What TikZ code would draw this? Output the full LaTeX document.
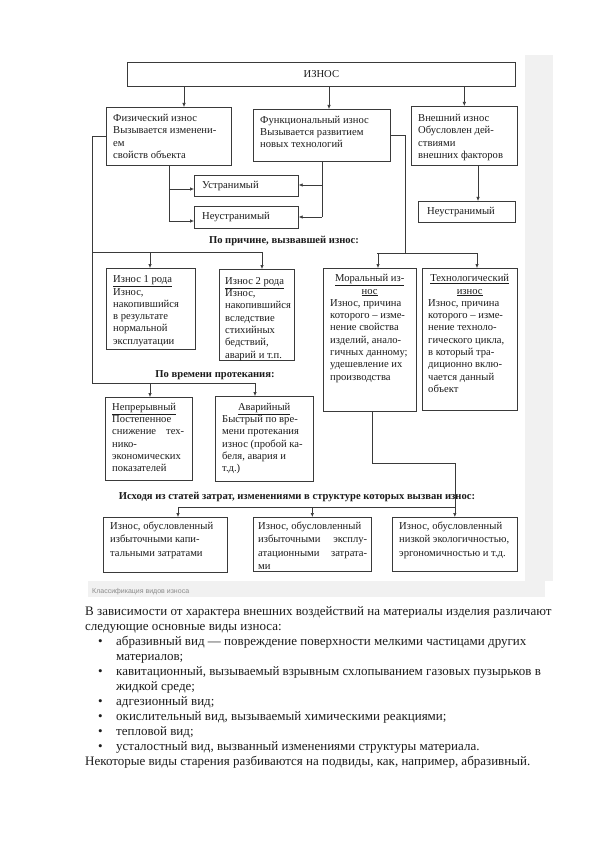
\documentclass[tikz,border=0pt]{standalone}
\usepackage{fontspec}
\setmainfont{Liberation Serif}
\newfontfamily\capfont{Liberation Sans}
\usetikzlibrary{arrows.meta,calc}
\definecolor{linec}{HTML}{3A3A3A}
\definecolor{textc}{HTML}{1C1C1C}
\definecolor{framec}{HTML}{F1F1F1}
\definecolor{capc}{HTML}{8A8A8A}
\newcommand\dfont{\fontsize{10.6}{12.3}\selectfont}
\newcommand\cfont{\fontsize{10.6}{13.2}\selectfont}
\newcommand\bfont{\fontsize{13}{15}\selectfont}
\newcommand\firststrut{\rule{0pt}{10pt}}
\begin{document}
\begin{tikzpicture}[x=1pt,y=-1pt,
  box/.style={draw=linec, line width=0.7pt, inner sep=0pt, anchor=north west},
  txt/.style={inner sep=0pt, anchor=north west, align=left, font=\dfont, text=textc},
  one/.style={inner sep=0pt, anchor=west, font=\dfont, text=textc},
  head/.style={inner sep=0pt, font=\dfont\bfseries, text=textc},
  con/.style={draw=linec, line width=0.6pt},
  arr/.style={con, -{Latex[length=4pt,width=3.4pt]}},
  body/.style={inner sep=0pt, anchor=base west, font=\bfont, text=textc},
]
\useasboundingbox (0,0) rectangle (596,842);
\fill[white] (0,0) rectangle (596,842);
% light grey frame of the figure
\fill[framec] (525,55) rectangle (553,581);
\fill[framec] (88,581) rectangle (545,597);

% ---------- boxes ----------
\node[box, minimum width=388, minimum height=24, font=\dfont, text=textc] (izn) at (127,62) {ИЗНОС};
\node[box, minimum width=125, minimum height=58] (phys) at (106,107) {};
\node[box, minimum width=137, minimum height=52] (func) at (253,109) {};
\node[box, minimum width=106, minimum height=59] (ext) at (411,106) {};
\node[box, minimum width=104, minimum height=21] (ustr) at (194,175) {};
\node[box, minimum width=104, minimum height=22] (neustr) at (194,206) {};
\node[box, minimum width=97, minimum height=21] (neustr2) at (418,201) {};
\node[box, minimum width=89, minimum height=81] (kind1) at (106,268) {};
\node[box, minimum width=75, minimum height=91] (kind2) at (219,269) {};
\node[box, minimum width=93, minimum height=143] (moral) at (323,268) {};
\node[box, minimum width=95, minimum height=142] (tech) at (422,268) {};
\node[box, minimum width=87, minimum height=83] (cont) at (105,397) {};
\node[box, minimum width=98, minimum height=85] (emerg) at (215,396) {};
\node[box, minimum width=124, minimum height=55] (cost1) at (103,517) {};
\node[box, minimum width=118, minimum height=54] (cost2) at (253,517) {};
\node[box, minimum width=125, minimum height=54] (cost3) at (392,517) {};

% ---------- texts ----------
\node[txt] (phys-t) at ($(phys.north west)+(7,4.5)$) {\firststrut Физический износ\\Вызывается изменени-\\ем\\свойств объекта};
\node[txt] (func-t) at ($(func.north west)+(7,4)$) {\firststrut Функциональный износ\\Вызывается развитием\\новых технологий};
\node[txt] (ext-t) at ($(ext.north west)+(7,5.5)$) {\firststrut Внешний износ\\Обусловлен дей-\\ствиями\\внешних факторов};
\node[one] (ustr-t) at ($(ustr.west)+(8,0)$) {Устранимый};
\node[one] (neustr-t) at ($(neustr.west)+(8,0)$) {Неустранимый};
\node[one] (neustr2-t) at ($(neustr2.west)+(9,0)$) {Неустранимый};
\node[txt] (kind1-t) at ($(kind1.north west)+(7,4.5)$) {\firststrut\underline{Износ 1 рода}\\Износ,\\накопившийся\\в результате\\нормальной\\эксплуатации};
\node[txt] (kind2-t) at ($(kind2.north west)+(6,5)$) {\firststrut\underline{Износ 2 рода}\\Износ,\\накопившийся\\вследствие\\стихийных\\бедствий,\\аварий и т.п.};
\node[txt] (moral-t) at ($(moral.north west)+(7,3.5)$) {\firststrut\makebox[79pt][c]{\underline{Моральный из-}}\\\makebox[79pt][c]{\underline{нос}}\\Износ, причина\\которого – изме-\\нение свойства\\изделий, анало-\\гичных данному;\\удешевление их\\производства};
\node[txt] (tech-t) at ($(tech.north west)+(6,3.5)$) {\firststrut\makebox[83pt][c]{\underline{Технологический}}\\\makebox[83pt][c]{\underline{износ}}\\Износ, причина\\которого – изме-\\нение техноло-\\гического цикла,\\в который тра-\\диционно вклю-\\чается данный\\объект};
\node[txt] (cont-t) at ($(cont.north west)+(7,3)$) {\firststrut\underline{Непрерывный}\\Постепенное\\\makebox[72pt][s]{снижение тех-}\\нико-\\экономических\\показателей};
\node[txt] (emerg-t) at ($(emerg.north west)+(7,4)$) {\firststrut\makebox[84pt][c]{\underline{Аварийный}}\\Быстрый по вре-\\мени протекания\\износ (пробой ка-\\беля, авария и\\т.д.)};
\node[txt, font=\cfont] (cost1-t) at ($(cost1.north west)+(7,2.5)$) {\firststrut Износ, обусловленный\\избыточными капи-\\тальными затратами};
\node[txt, font=\cfont] (cost2-t) at ($(cost2.north west)+(5,2.5)$) {\firststrut Износ, обусловленный\\\makebox[109pt][s]{избыточными эксплу-}\\\makebox[109pt][s]{атационными затрата-}\\ми};
\node[txt, font=\cfont] (cost3-t) at ($(cost3.north west)+(7,2.5)$) {\firststrut Износ, обусловленный\\низкой экологичностью,\\эргономичностью и т.д.};

% ---------- headings ----------
\node[head] (hcause) at (284,241) {По причине, вызвавшей износ:};
\node[head] (htime) at (215,375) {По времени протекания:};
\node[head] (hcost) at (297,497) {Исходя из статей затрат, изменениями в структуре которых вызван износ:};

% ---------- helper coordinates ----------
\coordinate (xa) at (184,0);
\coordinate (xb) at (329,0);
\coordinate (xl) at (92,0);
\coordinate (x150) at (150,0);
\coordinate (x255) at (255,0);
\coordinate (x262) at (262,0);
\coordinate (x405) at (405,0);
\coordinate (x377) at (377,0);
\coordinate (x378) at (378,0);
\coordinate (x477) at (477,0);
\coordinate (x478) at (478,0);
\coordinate (x372) at (372,0);
\coordinate (x178) at (178,0);
\coordinate (y185) at (0,185);
\coordinate (y189) at (0,189);
\coordinate (y217) at (0,217);
\coordinate (y221) at (0,221);
\coordinate (ycause) at (0,252);
\coordinate (yright) at (0,253);
\coordinate (ytime) at (0,383);
\coordinate (y463) at (0,463);
\coordinate (ycost) at (0,507);

% ---------- connectors ----------
\draw[arr] (izn.south -| xa) -- (phys.north -| xa);
\draw[arr] (izn.south -| xb) -- (func.north -| xb);
\draw[arr] (izn.south -| ext.north) -- (ext.north);

% physical wear: left trunk
\draw[con] (phys.west) -| (xl |- ytime) -- (x255 |- ytime);
\draw[con] (xl |- ycause) -- (x262 |- ycause);
\draw[arr] (x150 |- ycause) -- (kind1.north -| x150);
\draw[arr] (x262 |- ycause) -- (kind2.north -| x262);
\draw[arr] (x150 |- ytime) -- (cont.north -| x150);
\draw[arr] (x255 |- ytime) -- (emerg.north -| x255);

% physical wear: removable / irremovable
\draw[con] (phys.south) -- (phys.south |- y221);
\draw[arr] (phys.south |- y189) -- (ustr.west |- y189);
\draw[arr] (phys.south |- y221) -- (neustr.west |- y221);

% functional wear
\draw[con] (func.south) -- (func.south |- y217);
\draw[arr] (func.south |- y185) -- (ustr.east |- y185);
\draw[arr] (func.south |- y217) -- (neustr.east |- y217);
\draw[con] (func.east) -| (x405 |- yright);
\draw[con] (x377 |- yright) -- (x477 |- yright);
\draw[arr] (x378 |- yright) -- (moral.north -| x378);
\draw[arr] (x477 |- yright) -- (tech.north -| x477);

% external wear
\draw[arr] (ext.south -| x478) -- (neustr2.north -| x478);

% cost items
\draw[arr] (moral.south -| x372) |- (cost3.north |- y463) -- (cost3.north);
\draw[con] (x178 |- ycost) -- (cost3.north |- ycost);
\draw[arr] (x178 |- ycost) -- (cost1.north -| x178);
\draw[arr] (cost2.north |- ycost) -- (cost2.north);

% caption
\node[inner sep=0pt, anchor=west, font=\capfont\fontsize{7}{8}\selectfont, text=capc] (cap) at (92,592) {Классификация видов износа};

% ---------- body text ----------
\node[body] (l1) at (85,615) {В зависимости от характера внешних воздействий на материалы изделия различают};
\node[body] (l2) at (85,630) {следующие основные виды износа:};
\node[body] (b1) at (98,645) {•};
\node[body] (l3) at (116,645) {абразивный вид — повреждение поверхности мелкими частицами других};
\node[body] (l4) at (116,660) {материалов;};
\node[body] (b2) at (98,675) {•};
\node[body] (l5) at (116,675) {кавитационный, вызываемый взрывным схлопыванием газовых пузырьков в};
\node[body] (l6) at (116,690) {жидкой среде;};
\node[body] (b3) at (98,705) {•};
\node[body] (l7) at (116,705) {адгезионный вид;};
\node[body] (b4) at (98,720) {•};
\node[body] (l8) at (116,720) {окислительный вид, вызываемый химическими реакциями;};
\node[body] (b5) at (98,735) {•};
\node[body] (l9) at (116,735) {тепловой вид;};
\node[body] (b6) at (98,750) {•};
\node[body] (l10) at (116,750) {усталостный вид, вызванный изменениями структуры материала.};
\node[body] (l11) at (85,765) {Некоторые виды старения разбиваются на подвиды, как, например, абразивный.};
\end{tikzpicture}
\end{document}
